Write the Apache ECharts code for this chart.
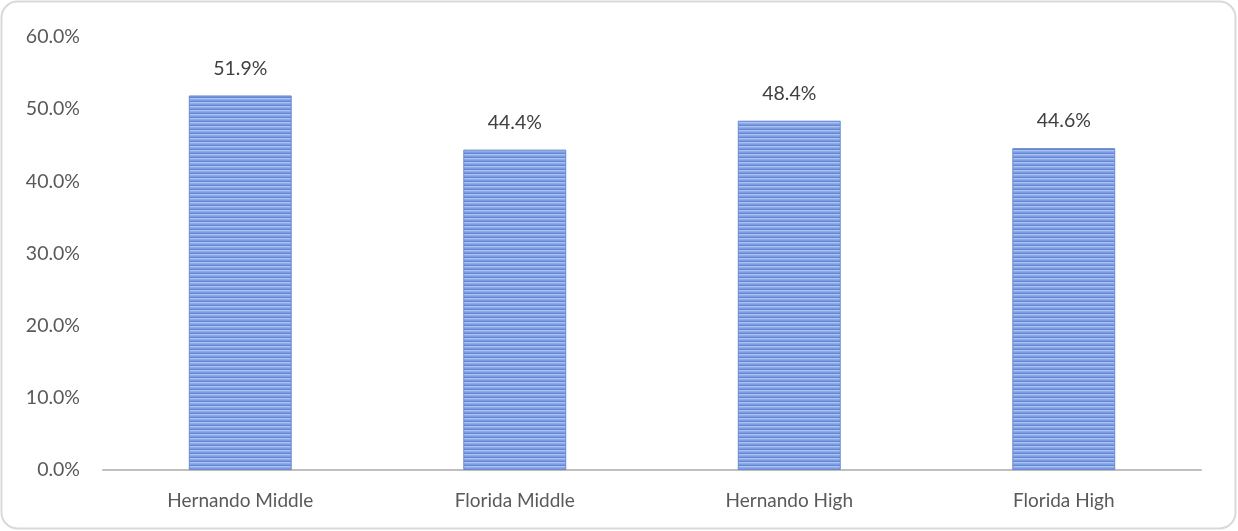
<!DOCTYPE html>
<html>
<head>
<meta charset="utf-8">
<script src="https://cdn.jsdelivr.net/npm/echarts@6/dist/echarts.min.js"></script>
<style>
  html, body { margin: 0; padding: 0; background: #ffffff; }
  #chart { width: 1238px; height: 531px; }
</style>
</head>
<body>
<div id="chart"></div>
<script>
// Share of students by school group
const categories = ['Hernando Middle', 'Florida Middle', 'Hernando High', 'Florida High'];
const values = [51.9, 44.4, 48.4, 44.6];
const yTicks = [0, 10, 20, 30, 40, 50, 60];

// Horizontal-stripe fill for the bars
function stripePattern() {
  const c = document.createElement('canvas');
  c.width = 4; c.height = 4;
  const ctx = c.getContext('2d');
  const rows = ['#7c9de2', '#6386d2', '#adc4f2', '#8eabe8'];
  rows.forEach((col, i) => { ctx.fillStyle = col; ctx.fillRect(0, i, 4, 1); });
  return c;
}

const chart = echarts.init(document.getElementById('chart'), null, { renderer: 'canvas' });
const font = 'Lato, "Open Sans", sans-serif';

chart.setOption({
  animation: false,
  graphic: [{
    type: 'rect',
    shape: { x: 1.5, y: 1.5, width: 1234, height: 527, r: 16 },
    style: { fill: 'none', stroke: '#d9d9d9', lineWidth: 2 },
    silent: true
  }],
  grid: { left: 103, right: 37, top: 37, bottom: 61, containLabel: false },
  xAxis: {
    type: 'category',
    data: categories,
    axisLine: { show: true, lineStyle: { color: '#bfbfbf', width: 2 } },
    axisTick: { show: false },
    axisLabel: { color: '#595959', fontSize: 19, fontFamily: font, margin: 21 }
  },
  yAxis: {
    type: 'value',
    min: yTicks[0],
    max: yTicks[yTicks.length - 1],
    interval: 10,
    splitLine: { show: false },
    axisLine: { show: false },
    axisTick: { show: false },
    axisLabel: {
      color: '#595959', fontSize: 19.5, fontFamily: font, margin: 23,
      formatter: v => v.toFixed(1) + '%'
    }
  },
  series: [{
    type: 'bar',
    data: values,
    barWidth: '37.5%',
    itemStyle: {
      color: { image: stripePattern(), repeat: 'repeat' },
      borderColor: '#6a8ad2',
      borderWidth: 1
    },
    label: {
      show: true,
      position: 'top',
      distance: 17,
      color: '#404040',
      fontSize: 19.5,
      fontFamily: font,
      formatter: p => p.value.toFixed(1) + '%'
    }
  }]
});
</script>
</body>
</html>
